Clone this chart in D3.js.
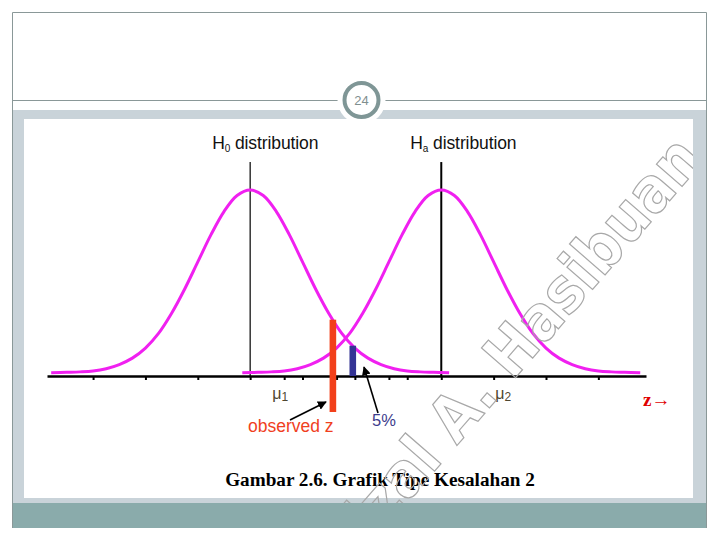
<!DOCTYPE html>
<html>
<head>
<meta charset="utf-8">
<script src="https://cdn.jsdelivr.net/npm/d3@7"></script>
<style>
  html, body { margin: 0; padding: 0; background: #ffffff; }
  svg { display: block; }
</style>
</head>
<body>
<div id="chart"></div>
<script>
// ---------------- data (z units) ----------------
const zOffsets = [-3.8, -3.5, -3.25, -3.0, -2.75, -2.5, -2.25, -2.0, -1.75, -1.5, -1.25, -1.0, -0.75, -0.5, -0.25,
                  0, 0.25, 0.5, 0.75, 1.0, 1.25, 1.5, 1.75, 2.0, 2.25, 2.5, 2.75, 3.0, 3.25, 3.5, 3.8];
const curveHeights = [0.000, 0.001, 0.002, 0.004, 0.009, 0.018, 0.032, 0.054, 0.086, 0.130, 0.183, 0.242, 0.301, 0.352, 0.387,
                      0.399, 0.387, 0.352, 0.301, 0.242, 0.183, 0.130, 0.086, 0.054, 0.032, 0.018, 0.009, 0.004, 0.002, 0.001, 0.000];
const distributions = ["H0", "Ha"];
const means = [0, 3.65];
const meanLabels = ["1", "2"];
const tickOffsets = [-3, -2, -1, 0, 1, 2, 3];
const observedZ = 1.58;
const criticalZ = 1.96;
const pageNumber = "24";
const caption = "Gambar 2.6. Grafik Tipe Kesalahan 2";
const watermark = "Rizal A. Hasibuan";

// ---------------- drawing ----------------
const W = 720, H = 540;
const svg = d3.select("#chart").append("svg").attr("width", W).attr("height", H);

// slide frame
svg.append("rect").attr("x", 12).attr("y", 110).attr("width", 695).attr("height", 418).attr("fill", "#c9d3d9");
svg.append("rect").attr("x", 24).attr("y", 119).attr("width", 669).attr("height", 379).attr("fill", "#ffffff");
svg.append("rect").attr("x", 12).attr("y", 503).attr("width", 695).attr("height", 25).attr("fill", "#8aabab");
svg.append("path").attr("d", "M12.5,528 V12.5 H706.5 V528").attr("fill", "none").attr("stroke", "#8a9898").attr("stroke-width", 1);
svg.append("line").attr("x1", 12).attr("x2", 707).attr("y1", 100.5).attr("y2", 100.5).attr("stroke", "#8a9898").attr("stroke-width", 1);

// page badge
svg.append("circle").attr("cx", 361.5).attr("cy", 100).attr("r", 24).attr("fill", "#ffffff");
svg.append("circle").attr("cx", 361.5).attr("cy", 100).attr("r", 17).attr("fill", "#ffffff")
  .attr("stroke", "#7f9696").attr("stroke-width", 4);
svg.append("text").attr("x", 361.5).attr("y", 105).attr("text-anchor", "middle")
  .attr("font-family", "Liberation Sans, Arial, sans-serif").attr("font-size", 13)
  .attr("fill", "#7f8f8f").text(pageNumber);

// scales
const x = d3.scaleLinear().domain([-3.88, 7.56]).range([47, 646]);
const y = d3.scaleLinear().domain([-0.007, 0.399]).range([376, 190]);

const g = svg.append("g");

// mean lines
g.selectAll("line.mean").data(means).join("line").attr("class", "mean")
  .attr("x1", d => x(d)).attr("x2", d => x(d))
  .attr("y1", y(0.46)).attr("y2", y(-0.007))
  .attr("stroke", "#000").attr("stroke-width", (d, i) => i === 0 ? 1.2 : 2);

// curves
const line = d3.line().x(d => x(d[0])).y(d => y(d[1])).curve(d3.curveCatmullRom);
g.selectAll("path.dist").data(means).join("path").attr("class", "dist")
  .attr("d", m => line(zOffsets.map((o, i) => [m + o, curveHeights[i]])))
  .attr("fill", "none").attr("stroke", "#f020f0").attr("stroke-width", 3).attr("stroke-linejoin", "round");

// axis
const tickVals = [];
means.forEach(m => tickOffsets.forEach(t => tickVals.push(m + t)));
const axis = d3.axisBottom(x).tickValues(tickVals).tickSize(4).tickSizeOuter(0).tickFormat("");
const ax = g.append("g").attr("transform", `translate(0,${y(-0.007)})`).call(axis);
ax.select(".domain").attr("stroke", "#000").attr("stroke-width", 2.6);
ax.selectAll(".tick line").attr("stroke", "#000").attr("stroke-width", 2);

// helper: height of the H0 curve at z
function h0At(z) {
  const h = d3.scaleLinear().domain(zOffsets).range(curveHeights);
  return h(z - means[0]);
}

// critical (5%) bar
g.append("rect").attr("x", x(criticalZ) - 3.3).attr("width", 6.6)
  .attr("y", y(h0At(criticalZ))).attr("height", y(-0.007) - y(h0At(criticalZ)))
  .attr("fill", "#343494");

// observed z bar
g.append("rect").attr("x", x(observedZ) - 3.3).attr("width", 6.6)
  .attr("y", y(h0At(observedZ))).attr("height", 412 - y(h0At(observedZ)))
  .attr("fill", "#f2401a");

// arrows
const defs = svg.append("defs");
defs.append("marker").attr("id", "ah").attr("viewBox", "0 0 10 10").attr("refX", 9).attr("refY", 5)
  .attr("markerWidth", 9).attr("markerHeight", 9).attr("markerUnits", "userSpaceOnUse").attr("orient", "auto")
  .append("path").attr("d", "M0,0 L10,5 L0,10 z").attr("fill", "#000");
g.append("line").attr("x1", 290).attr("y1", 420).attr("x2", 326).attr("y2", 402)
  .attr("stroke", "#000").attr("stroke-width", 1.6).attr("marker-end", "url(#ah)");
g.append("line").attr("x1", 378).attr("y1", 413).attr("x2", 364).attr("y2", 367)
  .attr("stroke", "#000").attr("stroke-width", 1.6).attr("marker-end", "url(#ah)");

// distribution labels
const sans = "Liberation Sans, Arial, sans-serif";
const lbl = g.selectAll("text.dlab").data(distributions).join("text").attr("class", "dlab")
  .attr("x", (d, i) => x(means[i]) - 38 + (i === 0 ? 0 : 7)).attr("y", 149)
  .attr("font-family", sans).attr("font-size", 17.5).attr("letter-spacing", -0.1).attr("fill", "#111");
lbl.append("tspan").text("H");
lbl.append("tspan").attr("font-size", 10).attr("dy", 3).text(d => d === "H0" ? "0" : "a");
lbl.append("tspan").attr("dy", -3).text(" distribution");

// mean labels
const labelShift = [22, 54];
const ml = g.selectAll("text.mlab").data(means).join("text").attr("class", "mlab")
  .attr("x", (d, i) => x(d) + labelShift[i]).attr("y", 399)
  .attr("font-family", sans).attr("font-size", 16).attr("fill", "#4f4630");
ml.append("tspan").text("μ");
ml.append("tspan").attr("font-size", 12).attr("dy", 2).text((d, i) => meanLabels[i]);

// annotations
g.append("text").attr("x", 248).attr("y", 432).attr("font-family", sans).attr("font-size", 17.5)
  .attr("fill", "#f0401e").text("observed z");
g.append("text").attr("x", 372).attr("y", 426).attr("font-family", sans).attr("font-size", 16.5)
  .attr("fill", "#3c3c8c").text("5%");
g.append("text").attr("x", 643).attr("y", 406).attr("font-family", "Liberation Serif, serif").attr("font-weight", "bold")
  .attr("font-size", 19).attr("fill", "#e00000").text("z\u2192");

// caption
svg.append("text").attr("x", 380).attr("y", 486).attr("text-anchor", "middle")
  .attr("font-family", "Liberation Serif, Times New Roman, serif").attr("font-weight", "bold")
  .attr("font-size", 19.2).attr("fill", "#000").text(caption);

// watermark
defs.append("clipPath").attr("id", "wmclip").append("rect").attr("x", 24).attr("y", 119).attr("width", 669).attr("height", 384);
svg.append("g").attr("clip-path", "url(#wmclip)")
  .append("text").attr("transform", "translate(705,160) rotate(-49)")
  .attr("text-anchor", "end").attr("font-family", "DejaVu Sans Condensed, DejaVu Sans, sans-serif").attr("font-weight", "bold")
  .attr("font-size", 62).attr("fill", "none").attr("stroke", "#a8a8a8").attr("stroke-width", 1.2)
  .text(watermark);
</script>
</body>
</html>
